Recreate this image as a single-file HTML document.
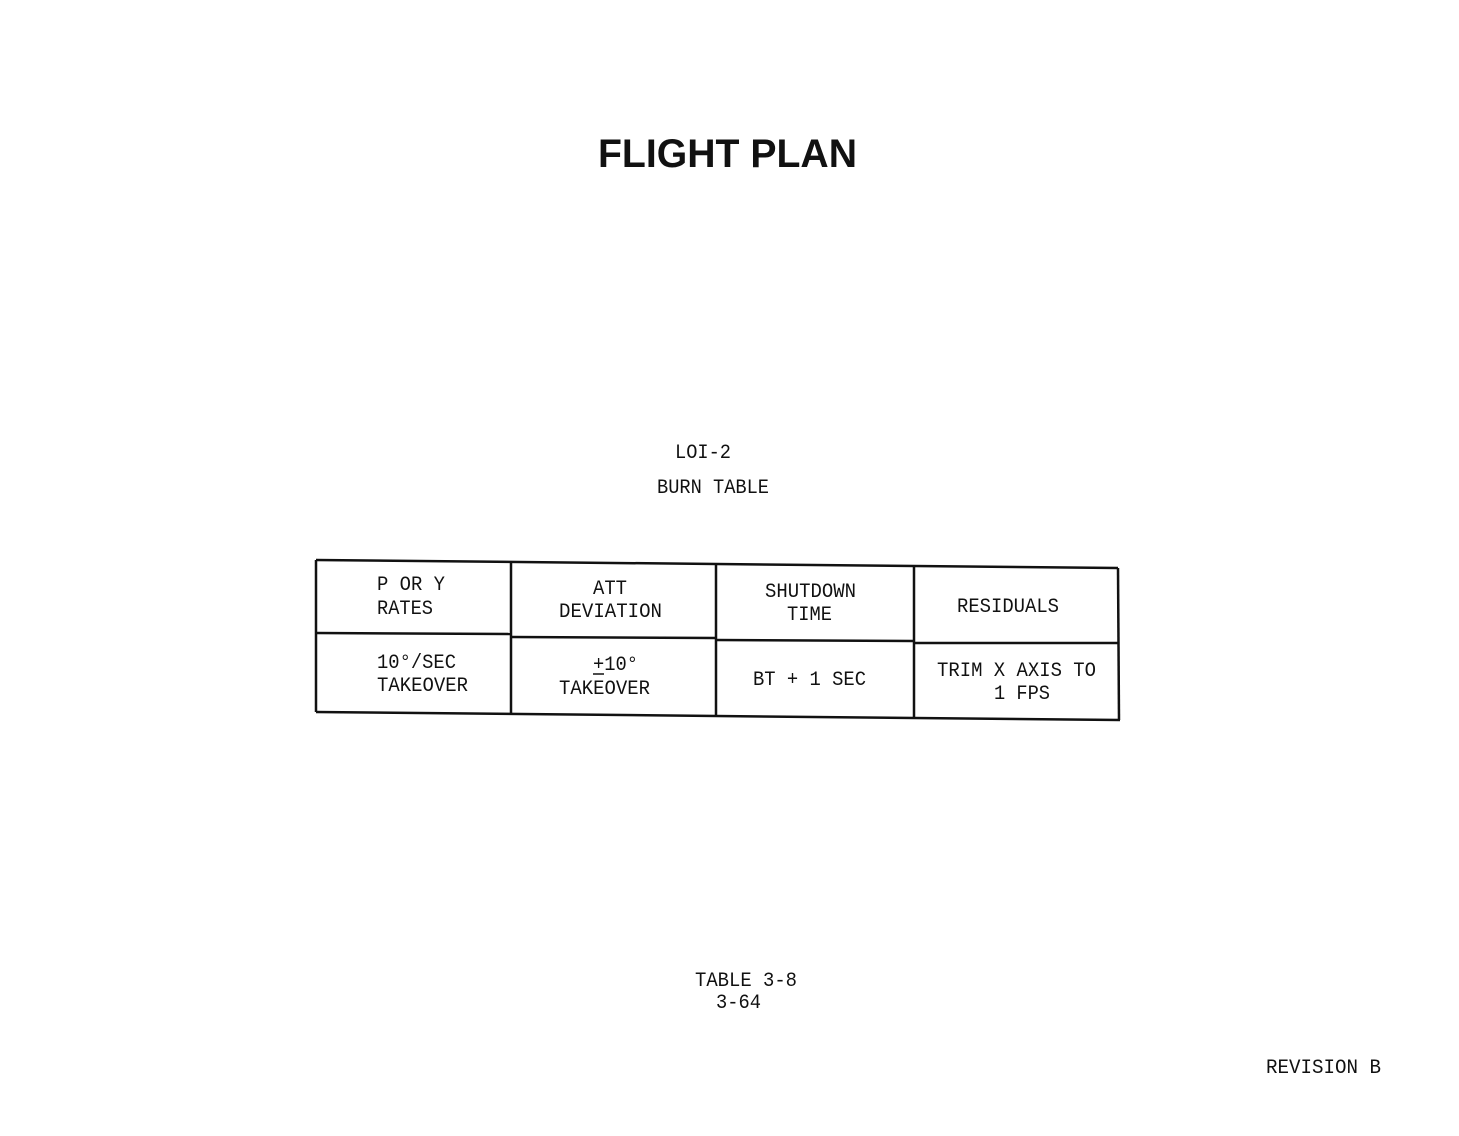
<!DOCTYPE html>
<html><head><style>
html,body{margin:0;padding:0;background:#fff;}
svg{display:block;}
text{font-family:"Liberation Mono",monospace;fill:#111;font-size:20px;}
</style></head><body>
<svg width="1459" height="1136" viewBox="0 0 1459 1136">
<text x="598" y="167" style="font-family:'Liberation Sans',sans-serif;font-weight:bold;font-size:40px" textLength="259" lengthAdjust="spacingAndGlyphs">FLIGHT PLAN</text>
<text x="675" y="458" textLength="56" lengthAdjust="spacingAndGlyphs">LOI-2</text>
<text x="657" y="493" textLength="112" lengthAdjust="spacingAndGlyphs">BURN TABLE</text>
<g stroke="#111" stroke-width="2.5" fill="none">
<line x1="316" y1="560" x2="1118" y2="568"/>
<line x1="316" y1="712" x2="1120" y2="720"/>
<line x1="316" y1="560" x2="316" y2="712"/>
<line x1="1118" y1="568" x2="1119" y2="720"/>
<line x1="511" y1="562" x2="511" y2="714"/>
<line x1="716" y1="564" x2="716" y2="716"/>
<line x1="914" y1="566" x2="914" y2="718"/>
<line x1="316" y1="633" x2="511" y2="634"/>
<line x1="511" y1="637" x2="716" y2="638"/>
<line x1="716" y1="640" x2="914" y2="641"/>
<line x1="914" y1="643" x2="1118" y2="643"/>
</g>
<text x="377" y="590" textLength="68" lengthAdjust="spacingAndGlyphs">P OR Y</text>
<text x="377" y="614" textLength="56" lengthAdjust="spacingAndGlyphs">RATES</text>
<text x="593" y="594" textLength="34" lengthAdjust="spacingAndGlyphs">ATT</text>
<text x="559" y="617" textLength="103" lengthAdjust="spacingAndGlyphs">DEVIATION</text>
<text x="765" y="597" textLength="91" lengthAdjust="spacingAndGlyphs">SHUTDOWN</text>
<text x="787" y="620" textLength="45" lengthAdjust="spacingAndGlyphs">TIME</text>
<text x="957" y="612" textLength="102" lengthAdjust="spacingAndGlyphs">RESIDUALS</text>
<text x="377" y="668" textLength="79" lengthAdjust="spacingAndGlyphs">10°/SEC</text>
<text x="377" y="691" textLength="91" lengthAdjust="spacingAndGlyphs">TAKEOVER</text>
<text x="593" y="670" textLength="45" lengthAdjust="spacingAndGlyphs">+10°</text>
<line x1="593" y1="674" x2="604" y2="674" stroke="#111" stroke-width="1.5"/>
<text x="559" y="694" textLength="91" lengthAdjust="spacingAndGlyphs">TAKEOVER</text>
<text x="753" y="685" textLength="113" lengthAdjust="spacingAndGlyphs">BT + 1 SEC</text>
<text x="937" y="676" textLength="159" lengthAdjust="spacingAndGlyphs">TRIM X AXIS TO</text>
<text x="994" y="699" textLength="56" lengthAdjust="spacingAndGlyphs">1 FPS</text>
<text x="695" y="986" textLength="102" lengthAdjust="spacingAndGlyphs">TABLE 3-8</text>
<text x="716" y="1008" textLength="45" lengthAdjust="spacingAndGlyphs">3-64</text>
<text x="1266" y="1073" textLength="115" lengthAdjust="spacingAndGlyphs">REVISION B</text>
</svg>
</body></html>
